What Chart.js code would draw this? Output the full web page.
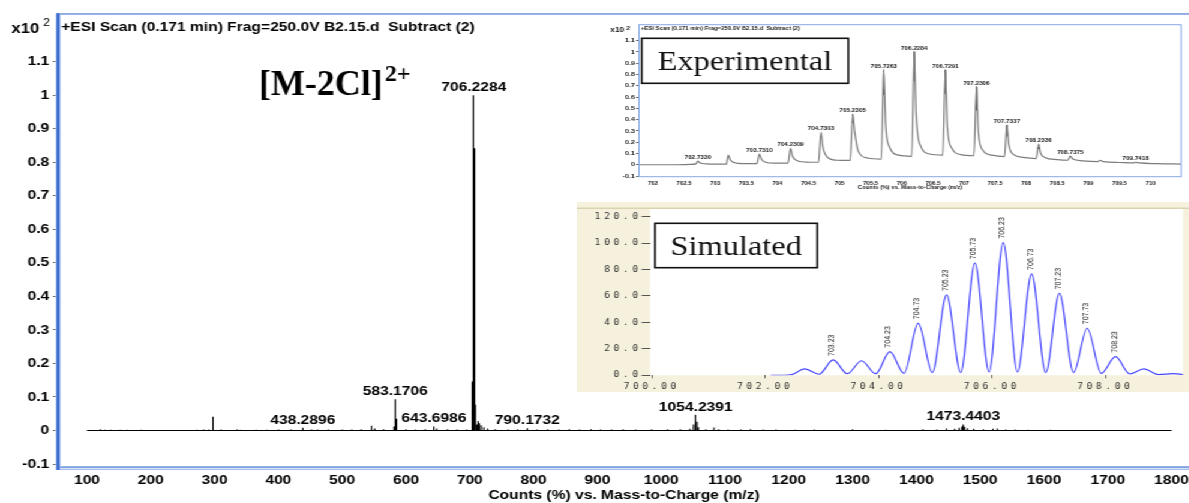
<!DOCTYPE html>
<html><head><meta charset="utf-8">
<script src="https://cdn.jsdelivr.net/npm/chart.js@4.4.1/dist/chart.umd.min.js"></script>
<style>
html,body{margin:0;padding:0;background:#fff;overflow:hidden;width:1189px;height:503px;}
#stage{position:absolute;left:0;top:0;width:991px;height:503px;transform:scaleX(1.2);transform-origin:0 0;}
#stage canvas{position:absolute;}
</style></head><body>
<div id="stage">
<canvas id="main" width="991" height="503" style="left:0;top:0;width:991px;height:503px"></canvas>
<canvas id="exp" width="491" height="172" style="left:500px;top:20px;width:491px;height:172px"></canvas>
<canvas id="sim" width="510" height="190" style="left:481px;top:202px;width:510px;height:190px"></canvas>
</div>
<script>
// ---------------- main spectrum data ----------------
const mainRange = [100, 1800];
const mainMz = [121,128,137,152,163,185,272,283,291,297.5,310,335,340,365,382,400,420,438.29,452,462,478,500,515,530,546,551,565,581.2,583.17,585.2,600,615,630,643.70,648,665,680,695,
 703.23,703.73,704.23,704.73,705.23,705.73,706.23,706.73,707.23,707.73,708.23,708.74,
 711,713,715,718,722,728,740,760,775,790.17,805,822,840,856,872,890,905,922,940,960,985,1010,1030,1045,
 1050.7,1052.7,1054.24,1056.2,1058.2,1070,1082.7,1090,1105,1125,1140,1160,1180,1210,1240,1300,1352,1410,1432,1447,1460,1467,1471.4,1473.44,1475.4,1480,1490,1505,1520,1527,1540,1555,1575,1610];
const mainInt = [0.004,0.002,0.002,0.002,0.002,0.002,0.002,0.003,0.003,0.041,0.003,0.003,0.002,0.002,0.002,0.003,0.003,0.008,0.003,0.003,0.003,0.003,0.003,0.004,0.014,0.006,0.004,0.012,0.093,0.035,0.004,0.003,0.004,0.012,0.006,0.004,0.003,0.003,
 0.08,0.095,0.146,0.288,0.448,0.842,1.0,0.842,0.693,0.353,0.184,0.077,
 0.018,0.028,0.022,0.016,0.010,0.006,0.004,0.003,0.004,0.007,0.003,0.004,0.003,0.004,0.003,0.004,0.003,0.003,0.004,0.003,0.004,0.004,0.004,0.005,
 0.018,0.030,0.047,0.026,0.010,0.004,0.009,0.004,0.003,0.003,0.004,0.003,0.003,0.002,0.003,0.004,0.002,0.004,0.003,0.006,0.005,0.008,0.012,0.018,0.011,0.007,0.005,0.004,0.005,0.006,0.003,0.003,0.002,0.002];
const mainLabelMz = [706.23, 583.17, 438.29, 643.70, 790.17, 1054.24, 1473.44];
const mainLabelText = ["706.2284","583.1706","438.2896","643.6986","790.1732","1054.2391","1473.4403"];
const mainXTicks = [100,200,300,400,500,600,700,800,900,1000,1100,1200,1300,1400,1500,1600,1700,1800];
const mainXLabels = ["100","200","300","400","500","600","700","800","900","1000","1100","1200","1300","1400","1500","1600","1700","1800"];
const mainYTicks = [-0.1,0,0.1,0.2,0.3,0.4,0.5,0.6,0.7,0.8,0.9,1,1.1];
const mainYLabels = ["-0.1","0","0.1","0.2","0.3","0.4","0.5","0.6","0.7","0.8","0.9","1","1.1"];
const mainTitle = "+ESI Scan (0.171 min) Frag=250.0V B2.15.d  Subtract (2)";
const mainXTitle = "Counts (%) vs. Mass-to-Charge (m/z)";

// ---------------- experimental inset ----------------
const expTraceMz = [701.78,702.30,702.60,702.69,702.72,702.75,702.85,703.05,703.18,703.21,703.24,703.30,703.45,703.67,703.71,703.74,703.80,703.95,
 704.17,704.21,704.24,704.30,704.45,704.66,704.70,704.73,704.79,704.95,705.17,705.21,705.24,705.30,705.45,705.67,705.71,705.74,705.80,705.95,
 706.16,706.20,706.23,706.30,706.45,706.66,706.70,706.73,706.80,706.95,707.16,707.20,707.23,707.30,707.45,707.65,707.69,707.72,707.80,707.95,
 708.16,708.20,708.23,708.30,708.50,708.67,708.71,708.75,708.90,709.15,709.19,709.24,709.50,709.72,709.76,709.82,710.10,710.49];
const expTraceI = [0.000,0.000,0.003,0.008,0.033,0.018,0.008,0.005,0.006,0.086,0.045,0.020,0.010,0.010,0.095,0.050,0.025,0.014,
 0.014,0.146,0.080,0.040,0.024,0.022,0.288,0.160,0.075,0.040,0.038,0.448,0.300,0.120,0.060,0.050,0.842,0.360,0.160,0.085,
 0.075,1.004,0.450,0.170,0.095,0.085,0.842,0.350,0.150,0.090,0.080,0.693,0.300,0.130,0.085,0.072,0.353,0.180,0.090,0.065,
 0.055,0.184,0.105,0.065,0.045,0.040,0.077,0.050,0.035,0.028,0.040,0.028,0.020,0.016,0.022,0.016,0.010,0.006];
const expTipMz = [705.21,705.71,706.20,706.70,707.20,707.69,708.20];
const expTipTop = [0.448,0.842,1.004,0.842,0.693,0.353,0.184];
const expTipBase = [0.37,0.62,0.74,0.63,0.48,0.25,0.14];
const expLabelMz = [702.72,703.71,704.21,704.70,705.21,705.71,706.20,706.70,707.20,707.69,708.20,708.71,709.76];
const expLabelText = ["702.7330","703.7310","704.2309","704.7303","705.2305","705.7263","706.2284","706.7291","707.2306","707.7337","708.2336","708.7375","709.7418"];
const expXTicks = [702,702.5,703,703.5,704,704.5,705,705.5,706,706.5,707,707.5,708,708.5,709,709.5,710];
const expXLabels = ["702","702.5","703","703.5","704","704.5","705","705.5","706","706.5","707","707.5","708","708.5","709","709.5","710"];
const expYTicks = [-0.1,0,0.1,0.2,0.3,0.4,0.5,0.6,0.7,0.8,0.9,1,1.1];
const expYLabels = ["-0.1","0","0.1","0.2","0.3","0.4","0.5","0.6","0.7","0.8","0.9","1","1.1"];

// ---------------- simulated inset ----------------
const simMz = [702.10,702.33,702.47,702.70,702.95,703.20,703.45,703.70,703.95,704.20,704.45,704.70,704.95,705.20,705.45,705.70,705.95,706.20,706.45,706.70,706.95,707.19,707.44,707.68,707.93,708.18,708.43,708.68,708.94,709.20,709.37];
const simI = [0,0,0.5,4.8,0.8,11.6,1.2,11.0,1.2,17.9,1.5,39.4,2.0,60.8,2.0,84.8,2.5,100.4,2.5,76.7,2.0,62.0,2.0,35.6,1.5,14.1,1.0,4.8,0.5,1.2,0.6];
const simLabelMz = [703.20,704.20,704.70,705.20,705.70,706.20,706.70,707.19,707.68,708.18];
const simLabelText = ["703.23","704.23","704.73","705.23","705.73","706.23","706.73","707.23","707.73","708.23"];
const simXTicks = [700,702,704,706,708];
const simXLabels = ["700.00","702.00","704.00","706.00","708.00"];
const simYTicks = [0,20,40,60,80,100,120];
const simYLabels = ["0.0","20.0","40.0","60.0","80.0","100.0","120.0"];

// ---------------- helpers ----------------
const SANS = '"Liberation Sans", Arial, sans-serif';
const SERIF = '"Liberation Serif", "Times New Roman", serif';
Chart.defaults.font.family = SANS;
Chart.defaults.animation = false;

function stickPoints(mz, h, from, to){
  const pts = [{x:from, y:0}];
  for (let i=0;i<mz.length;i++){ pts.push({x:mz[i],y:0},{x:mz[i],y:h[i]},{x:mz[i],y:0}); }
  pts.push({x:to, y:0});
  return pts;
}
function tracePoints(mz, v){ return mz.map((m,i)=>({x:m, y:v[i]})); }
function segPoints(mz, lo, hi){
  const pts=[];
  for (let i=0;i<mz.length;i++){ pts.push({x:mz[i],y:lo[i]},{x:mz[i],y:hi[i]},{x:mz[i],y:null}); }
  return pts;
}
const basePlugins = {legend:{display:false}, tooltip:{enabled:false}};

// ---------------- main chart ----------------
const mainDecor = {id:'mainDecor', afterDraw(c){
  const ctx=c.ctx, xs=c.scales.x, ys=c.scales.y;
  ctx.save();
  // frame
  ctx.fillStyle='#6f95dc'; ctx.fillRect(47,13.2,944,1.5);
  ctx.fillStyle='#4a7bd4'; ctx.fillRect(47,466.4,944,1.3);
  ctx.fillStyle='#a3bdea'; ctx.fillRect(47,468.6,944,1.4);
  ctx.fillStyle='#b2c8f0'; ctx.fillRect(46.4,13.2,4.0,456.8);
  ctx.fillStyle='#2f63cc'; ctx.fillRect(47.2,13.2,2.4,456.8);
  // header
  ctx.fillStyle='#000'; ctx.textAlign='left'; ctx.textBaseline='middle';
  ctx.font='bold 13px '+SANS; ctx.fillText(mainTitle, 51, 27.5);
  ctx.font='bold 14px '+SANS; ctx.fillText('x10', 9.4, 29);
  ctx.font='10px '+SANS; ctx.fillText('2', 36, 23);
  // ion formula (not stretched in the original)
  ctx.save(); ctx.translate(215.8,0); ctx.scale(1/1.2,1);
  ctx.textBaseline='alphabetic';
  ctx.font='bold 36px '+SERIF; ctx.fillText('[M-2Cl]', 0, 95);
  const w=ctx.measureText('[M-2Cl]').width;
  ctx.font='bold 24px '+SERIF; ctx.fillText('2+', w+2, 81);
  ctx.restore();
  // peak labels
  ctx.font='bold 13px '+SANS; ctx.textAlign='center'; ctx.textBaseline='alphabetic';
  mainLabelMz.forEach((m,i)=>{
    const k=mainMz.indexOf(m);
    ctx.fillText(mainLabelText[i], xs.getPixelForValue(m), ys.getPixelForValue(mainInt[k])-4);
  });
  ctx.restore();
}};

new Chart(document.getElementById('main'), {
  type:'line',
  data:{datasets:[{data:stickPoints(mainMz, mainInt, mainRange[0], mainRange[1]), borderColor:'#000', borderWidth:1.1, pointRadius:0, tension:0, fill:false}]},
  options:{
    responsive:false, maintainAspectRatio:false, animation:false, events:[],
    layout:{padding:{top:14,right:0,left:0,bottom:0}, autoPadding:false},
    plugins:basePlugins,
    scales:{
      x:{type:'linear', min:55.8, max:1827.6,
        afterBuildTicks:s=>{s.ticks=mainXTicks.map(v=>({value:v}));},
        afterFit:s=>{s.height=35; s.paddingLeft=0; s.paddingRight=0;},
        ticks:{autoSkip:false, maxRotation:0, minRotation:0, padding:4.5, color:'#000', font:{size:13, weight:'bold', lineHeight:1.2}, callback:(v,i)=>mainXLabels[i]},
        grid:{display:true, drawOnChartArea:false, drawTicks:false, color:'rgba(0,0,0,0)'},
        border:{display:false},
        title:{display:true, text:mainXTitle, color:'#000', font:{size:13, weight:'bold', lineHeight:1}, padding:{top:0,bottom:1.5}}
      },
      y:{type:'linear', min:-0.1118, max:1.2422,
        afterBuildTicks:s=>{s.ticks=mainYTicks.map(v=>({value:v}));},
        afterFit:s=>{s.width=49; s.paddingTop=0; s.paddingBottom=0;},
        ticks:{autoSkip:false, padding:3, color:'#000', font:{size:13, weight:'bold'}, callback:(v,i)=>mainYLabels[i]},
        grid:{display:true, drawOnChartArea:false, drawTicks:true, tickLength:5, color:'#777'},
        border:{display:false}
      }
    }
  },
  plugins:[mainDecor]
});

// ---------------- experimental inset ----------------
const expDecor = {id:'expDecor',
  beforeDraw(c){ const ctx=c.ctx; ctx.save(); ctx.fillStyle='#fff'; ctx.fillRect(0,0,c.width,c.height); ctx.restore(); },
  afterDraw(c){
    const ctx=c.ctx, a=c.chartArea, xs=c.scales.x, ys=c.scales.y;
    ctx.save();
    ctx.strokeStyle='#86a9e6'; ctx.lineWidth=1;
    ctx.strokeRect(a.left, a.top, a.right-a.left, a.bottom-a.top);
    ctx.fillStyle='#222'; ctx.textAlign='left'; ctx.textBaseline='middle';
    ctx.font='bold 5px '+SANS; ctx.fillText(mainTitle, 34, 9);
    ctx.font='bold 7px '+SANS; ctx.fillText('x10', 8.5, 10.5);
    ctx.font='bold 5.5px '+SANS; ctx.fillText('2', 22, 8.5);
    // label box
    ctx.fillStyle='#fff'; ctx.fillRect(34.75,18.3,172.15,45);
    ctx.strokeStyle='#111'; ctx.lineWidth=1.6; ctx.strokeRect(34.75,18.3,172.15,45);
    ctx.fillStyle='#111'; ctx.font='27px '+SERIF; ctx.textAlign='center'; ctx.textBaseline='alphabetic';
    ctx.fillText('Experimental', 120.8, 50);
    // peak labels
    ctx.font='bold 5.3px '+SANS; ctx.fillStyle='#222';
    expLabelMz.forEach((m,i)=>{
      const k=expTraceMz.indexOf(m);
      ctx.fillText(expLabelText[i], xs.getPixelForValue(m), ys.getPixelForValue(expTraceI[k])-2);
    });
    ctx.restore();
  }
};
new Chart(document.getElementById('exp'), {
  type:'line',
  data:{datasets:[
    {data:tracePoints(expTraceMz, expTraceI), borderColor:'#7c7c7c', borderWidth:1.2, pointRadius:0, cubicInterpolationMode:'monotone', fill:false},
    {data:segPoints(expTipMz, expTipBase, expTipTop), borderColor:'#111', borderWidth:1.1, pointRadius:0, tension:0, spanGaps:false, fill:false}
  ]},
  options:{
    responsive:false, maintainAspectRatio:false, animation:false, events:[],
    layout:{padding:{top:4.7,right:6.8,left:0,bottom:0}, autoPadding:false},
    plugins:basePlugins,
    scales:{
      x:{type:'linear', min:701.774, max:710.49,
        afterBuildTicks:s=>{s.ticks=expXTicks.map(v=>({value:v}));},
        afterFit:s=>{s.height=15.3; s.paddingLeft=0; s.paddingRight=0;},
        ticks:{autoSkip:false, maxRotation:0, minRotation:0, padding:3.6, color:'#222', font:{size:5, weight:'bold', lineHeight:1.2}, callback:(v,i)=>expXLabels[i]},
        grid:{display:true, drawOnChartArea:false, drawTicks:false, color:'rgba(0,0,0,0)'},
        border:{display:false},
        title:{display:true, text:mainXTitle, color:'#222', font:{size:5, weight:'bold', lineHeight:1}, padding:{top:0,bottom:2}}
      },
      y:{type:'linear', min:-0.106, max:1.242,
        afterBuildTicks:s=>{s.ticks=expYTicks.map(v=>({value:v}));},
        afterFit:s=>{s.width=32.5; s.paddingTop=0; s.paddingBottom=0;},
        ticks:{autoSkip:false, padding:1, color:'#222', font:{size:6, weight:'bold'}, callback:(v,i)=>expYLabels[i]},
        grid:{display:true, drawOnChartArea:false, drawTicks:true, tickLength:2.5, color:'#666'},
        border:{display:false}
      }
    }
  },
  plugins:[expDecor]
});

// ---------------- simulated inset ----------------
const simDecor = {id:'simDecor',
  beforeDraw(c){
    const ctx=c.ctx, a=c.chartArea;
    ctx.fillStyle='#f5f1dc'; ctx.fillRect(0,0,c.width,c.height);
    ctx.fillStyle='#fff'; ctx.fillRect(a.left,a.top,a.right-a.left,a.bottom-a.top);
    ctx.fillStyle='#d9d3b3'; ctx.fillRect(0,a.top-1.5,c.width,1.5);
    ctx.letterSpacing='3px';
  },
  afterDraw(c){
    const ctx=c.ctx, xs=c.scales.x, ys=c.scales.y;
    ctx.letterSpacing='0px';
    ctx.save();
    ctx.fillStyle='#fff'; ctx.fillRect(64.8,21.3,135.3,44.4);
    ctx.strokeStyle='#111'; ctx.lineWidth=1.6; ctx.strokeRect(64.8,21.3,135.3,44.4);
    ctx.fillStyle='#111'; ctx.font='27px '+SERIF; ctx.textAlign='center'; ctx.textBaseline='alphabetic';
    ctx.fillText('Simulated', 132.5, 53);
    ctx.font='7px '+SANS; ctx.fillStyle='#222'; ctx.textAlign='left'; ctx.textBaseline='middle';
    simLabelMz.forEach((m,i)=>{
      const k=simMz.indexOf(m);
      const x=xs.getPixelForValue(m)-1, y=ys.getPixelForValue(simI[k])-4;
      ctx.save(); ctx.translate(x,y); ctx.rotate(-Math.PI/2); ctx.fillText(simLabelText[i],0,0); ctx.restore();
    });
    ctx.restore();
  }
};
new Chart(document.getElementById('sim'), {
  type:'line',
  data:{datasets:[{data:tracePoints(simMz, simI), borderColor:'#4646ff', borderWidth:1.2, pointRadius:0, cubicInterpolationMode:'monotone', fill:false}]},
  options:{
    responsive:false, maintainAspectRatio:false, animation:false, events:[],
    layout:{padding:{top:7,right:5.2,left:0,bottom:0}, autoPadding:false},
    plugins:basePlugins,
    scales:{
      x:{type:'linear', min:699.97, max:709.37,
        afterBuildTicks:s=>{s.ticks=simXTicks.map(v=>({value:v}));},
        afterFit:s=>{s.height=16.7; s.paddingLeft=0; s.paddingRight=0;},
        ticks:{autoSkip:false, maxRotation:0, minRotation:0, padding:3.6, color:'#333', font:{family:'"DejaVu Sans Mono", monospace', size:8, lineHeight:1.2}, callback:(v,i)=>simXLabels[i]},
        grid:{display:true, drawOnChartArea:false, drawTicks:true, tickLength:3, color:'#666'},
        border:{display:false}
      },
      y:{type:'linear', min:0, max:125.8,
        afterBuildTicks:s=>{s.ticks=simYTicks.map(v=>({value:v}));},
        afterFit:s=>{s.width=60.7; s.paddingTop=0; s.paddingBottom=0;},
        ticks:{autoSkip:false, padding:0, color:'#333', font:{family:'"DejaVu Sans Mono", monospace', size:8}, callback:(v,i)=>simYLabels[i]},
        grid:{display:true, drawOnChartArea:false, drawTicks:true, tickLength:7, color:'#555'},
        border:{display:false}
      }
    }
  },
  plugins:[simDecor]
});
</script>
</body></html>
